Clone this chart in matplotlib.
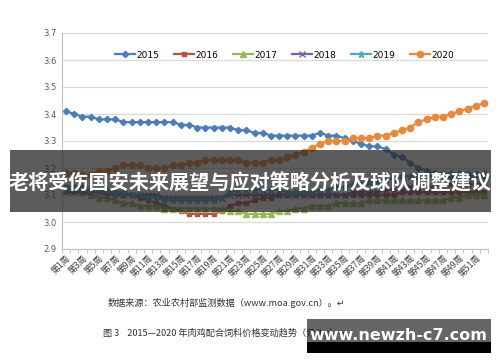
import matplotlib
matplotlib.use('Agg')
import matplotlib.pyplot as plt
from matplotlib.patches import Rectangle
import numpy as np

plt.rcParams['font.family'] = ['Noto Sans CJK SC', 'DejaVu Sans']

# weekly price data (yuan/kg)
weeks = np.arange(1, 53)
week_labels = ['第%d周' % w for w in weeks]

p2015 = [3.41, 3.40, 3.39, 3.39, 3.38, 3.38, 3.38, 3.37, 3.37, 3.37, 3.37, 3.37, 3.37,
         3.37, 3.36, 3.36, 3.35, 3.35, 3.35, 3.35, 3.35, 3.34, 3.34, 3.33, 3.33, 3.32,
         3.32, 3.32, 3.32, 3.32, 3.32, 3.33, 3.32, 3.32, 3.31, 3.30, 3.29, 3.28, 3.28,
         3.27, 3.25, 3.24, 3.22, 3.20, 3.19, 3.18, 3.17, 3.17, 3.17, 3.17, 3.17, 3.17]
p2016 = [3.13, 3.13, 3.12, 3.12, 3.12, 3.11, 3.11, 3.10, 3.10, 3.09, 3.08, 3.07, 3.06,
         3.05, 3.04, 3.03, 3.03, 3.03, 3.03, 3.04, 3.06, 3.07, 3.07, 3.08, 3.09, 3.09,
         3.10, 3.10, 3.10, 3.10, 3.10, 3.10, 3.10, 3.10, 3.10, 3.10, 3.10, 3.10, 3.10,
         3.10, 3.10, 3.11, 3.11, 3.11, 3.11, 3.11, 3.11, 3.11, 3.11, 3.11, 3.11, 3.11]
p2017 = [3.12, 3.12, 3.11, 3.10, 3.09, 3.09, 3.08, 3.07, 3.07, 3.06, 3.06, 3.06, 3.05,
         3.05, 3.05, 3.05, 3.05, 3.05, 3.05, 3.05, 3.04, 3.04, 3.03, 3.03, 3.03, 3.03,
         3.04, 3.04, 3.05, 3.05, 3.06, 3.06, 3.06, 3.07, 3.07, 3.07, 3.07, 3.08, 3.08,
         3.08, 3.08, 3.08, 3.08, 3.08, 3.08, 3.08, 3.08, 3.09, 3.09, 3.10, 3.10, 3.10]
p2018 = [3.11, 3.11, 3.11, 3.11, 3.11, 3.10, 3.10, 3.10, 3.10, 3.10, 3.10, 3.10, 3.09,
         3.09, 3.09, 3.09, 3.09, 3.09, 3.09, 3.09, 3.10, 3.10, 3.10, 3.10, 3.10, 3.10,
         3.10, 3.10, 3.10, 3.10, 3.10, 3.10, 3.10, 3.10, 3.10, 3.11, 3.11, 3.11, 3.11,
         3.12, 3.12, 3.12, 3.13, 3.13, 3.13, 3.13, 3.14, 3.14, 3.14, 3.14, 3.14, 3.14]
p2019 = [3.13, 3.13, 3.13, 3.12, 3.12, 3.12, 3.11, 3.11, 3.10, 3.10, 3.09, 3.09, 3.08,
         3.08, 3.08, 3.08, 3.08, 3.08, 3.08, 3.09, 3.11, 3.12, 3.12, 3.12, 3.12, 3.12,
         3.12, 3.11, 3.11, 3.11, 3.11, 3.12, 3.12, 3.13, 3.13, 3.14, 3.14, 3.15, 3.15,
         3.16, 3.16, 3.17, 3.17, 3.17, 3.17, 3.17, 3.18, 3.18, 3.18, 3.18, 3.18, 3.18]
p2020 = [3.18, 3.18, 3.175, 3.175, 3.19, 3.19, 3.20, 3.21, 3.21, 3.21, 3.20, 3.20, 3.20,
         3.21, 3.21, 3.22, 3.22, 3.23, 3.23, 3.23, 3.23, 3.23, 3.22, 3.22, 3.22, 3.23,
         3.23, 3.24, 3.25, 3.26, 3.275, 3.29, 3.30, 3.30, 3.30, 3.31, 3.31, 3.31, 3.32,
         3.32, 3.33, 3.34, 3.35, 3.37, 3.38, 3.39, 3.39, 3.40, 3.41, 3.42, 3.43, 3.44]

series = [('2015', p2015, '#4a7ebb', 'D', 3.2),
          ('2016', p2016, '#be4b48', 's', 3.4),
          ('2017', p2017, '#98b954', '^', 4.0),
          ('2018', p2018, '#7d60a0', 'x', 4.0),
          ('2019', p2019, '#46aac5', '*', 5.0),
          ('2020', p2020, '#e8883a', 'o', 4.5)]

W, H = 500, 362
fig = plt.figure(figsize=(W / 100, H / 100), dpi=100)

def fx(x):
    return x / W

def fy(y):
    return 1 - y / H

ax = fig.add_axes([fx(62), fy(249), fx(488) - fx(62), fy(33) - fy(249)])

for name, vals, col, mk, ms in series:
    ax.plot(weeks, vals, color=col, lw=1.6, marker=mk, ms=ms, mew=1.0,
            mec=col, mfc=col, label=name)

ax.set_xlim(0.5, 52.5)
ax.set_ylim(2.9, 3.7)
ax.set_yticks(np.arange(2.9, 3.71, 0.1))
ax.set_yticklabels(['%.1f' % v for v in np.arange(2.9, 3.71, 0.1)],
                   fontsize=6, color='#595959', family='DejaVu Sans')
ax.set_xticks(weeks[::2])
ax.set_xticklabels(week_labels[::2], rotation=45, ha='right', rotation_mode='anchor',
                   fontsize=6.3, color='#404040')
ax.set_xticks(np.arange(0.5, 53, 1), minor=True)
ax.tick_params(axis='x', which='major', length=0, pad=3)
ax.tick_params(axis='x', which='minor', length=3, color='#bfbfbf')
ax.tick_params(axis='y', length=0, pad=4)
ax.grid(axis='y', color='#d9d9d9', lw=0.9)
ax.set_axisbelow(True)
for s in ['top', 'right']:
    ax.spines[s].set_visible(False)
ax.spines['left'].set_color('#bfbfbf')
ax.spines['bottom'].set_color('#bfbfbf')

ax.legend(loc='center', bbox_to_anchor=(0.523, 0.898), ncol=6, frameon=False,
          handlelength=2.2, handletextpad=0.2, columnspacing=1.6,
          prop={'family': 'DejaVu Sans', 'size': 6.5})

# dark banner across the middle
fig.patches.append(Rectangle((fx(10), fy(212)), fx(491) - fx(10), fy(150) - fy(212),
                             transform=fig.transFigure, fc='#262626', alpha=0.75,
                             ec='none', zorder=5))
fig.text(fx(250), fy(183), '老将受伤国安未来展望与应对策略分析及球队调整建议',
         ha='center', va='center', color='white', fontsize=14.5, fontweight='bold',
         zorder=6)

# caption under the chart
fig.text(fx(226), fy(303), '数据来源：农业农村部监测数据（www.moa.gov.cn）。↵',
         ha='center', va='center', fontsize=6.6, color='#333333')
fig.text(fx(103), fy(333), '图 3    2015—2020 年肉鸡配合饲料价格变动趋势（元/kg）↵',
         ha='left', va='center', fontsize=6.6, color='#333333')

# watermark box
fig.patches.append(Rectangle((fx(307), fy(342)), fx(491) - fx(307), fy(319) - fy(342),
                             transform=fig.transFigure, fc='black', alpha=0.6,
                             ec='none', zorder=7))
fig.patches.append(Rectangle((fx(307), fy(353)), fx(491) - fx(307), fy(342) - fy(353),
                             transform=fig.transFigure, fc='black', ec='none', zorder=7))
fig.text(fx(398), fy(336), 'www.newzh-c7.com', ha='center', va='center', color='white',
         fontsize=11.5, fontweight='bold', family='DejaVu Sans', zorder=8)

fig.savefig('out.png', dpi=100)
